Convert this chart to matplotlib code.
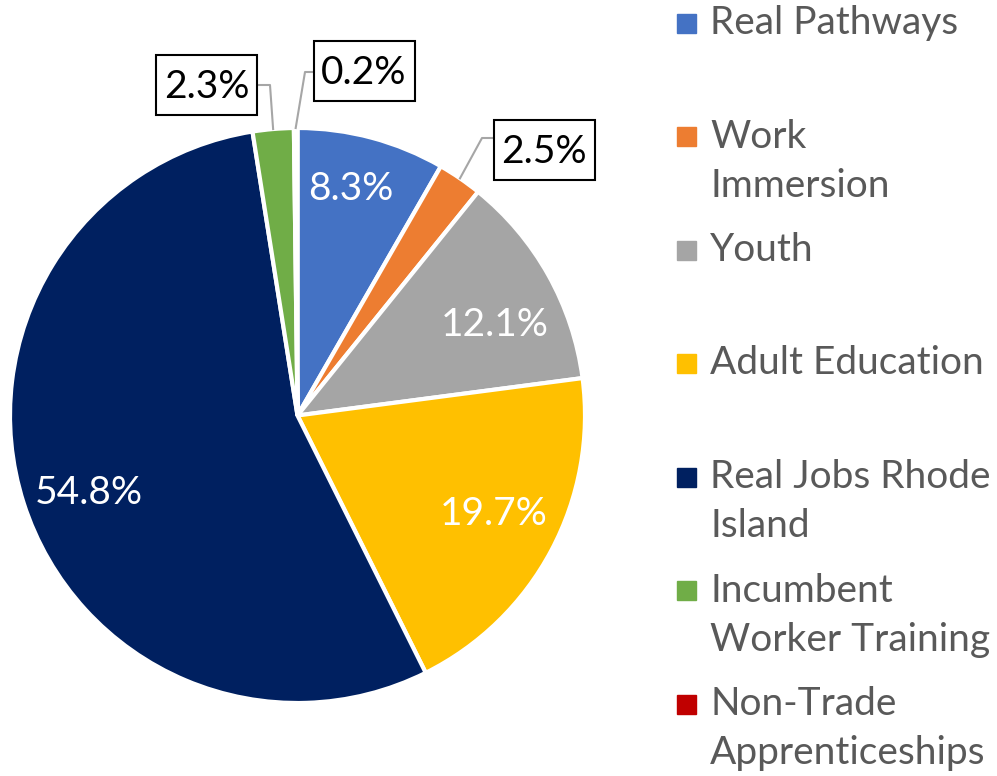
import numpy as np
import matplotlib.pyplot as plt
from matplotlib.patches import Rectangle

plt.rcParams['font.family'] = ['Lato', 'DejaVu Sans']

categories = ['Real Pathways', 'Work\nImmersion', 'Youth', 'Adult Education',
              'Real Jobs Rhode\nIsland', 'Incumbent\nWorker Training',
              'Non-Trade\nApprenticeships']
shares = [8.3, 2.5, 12.1, 19.7, 54.8, 2.3, 0.2]
colors = ['#4472C4', '#ED7D31', '#A5A5A5', '#FFC000', '#002060', '#70AD47', '#C00000']

# label radius (fraction of pie radius) and angle nudge (deg) for inside labels
label_r = {0: 0.82, 2: 0.76, 3: 0.76, 4: 0.77}
label_da = {0: -2, 2: 4, 3: -2, 4: -2}
# callouts for small slices: box centre, elbow point, end at box edge (pixels)
callouts = {1: ((544, 150), (482, 138), (493, 138)),
            5: ((206.5, 85), (270, 85), (257, 85)),
            6: ((364, 71), (305, 72), (313, 72))}

W, H = 997, 776
fig = plt.figure(figsize=(W / 100, H / 100), dpi=100)
ax = fig.add_axes([0, 0, 1, 1])

cx, cy, r = 297.5, 415.5, 287.5

# y axis is flipped, so counterclock=True draws clockwise on screen
wedges, _ = ax.pie(shares, colors=colors, startangle=-90, counterclock=True,
                   center=(cx, cy), radius=r, frame=True,
                   wedgeprops=dict(edgecolor='white', linewidth=3))
ax.set_xlim(0, W)
ax.set_ylim(H, 0)
ax.set_aspect('equal')
ax.axis('off')

total = sum(shares)
start = 0.0
for i, s in enumerate(shares):
    mid = (start + s / 2) / total * 2 * np.pi
    start += s
    label = f'{s:.1f}%'
    if i in callouts:
        (bx, by), (ex, ey), (tx, ty) = callouts[i]
        px = cx + r * np.sin(mid)
        py = cy - r * np.cos(mid)
        ax.plot([px, ex, tx], [py, ey, ty], color='#A6A6A6', lw=1.5, zorder=3)
        ax.add_patch(Rectangle((bx - 50.5, by - 30), 101, 60, fc='white',
                               ec='black', lw=1.5, zorder=4))
        ax.text(bx, by + 2, label, ha='center', va='center', fontsize=28,
                color='black', zorder=5)
    else:
        d = label_r[i] * r
        a = mid + np.radians(label_da[i])
        ax.text(cx + d * np.sin(a), cy - d * np.cos(a) + 3, label, ha='center',
                va='center', fontsize=28, color='white')

# legend
for i, (lab, c) in enumerate(zip(categories, colors)):
    y = 23 + i * 113.5
    ax.add_patch(Rectangle((677, y - 9.5), 19, 19, color=c))
    ax.text(710, y - 18, lab, ha='left', va='top', fontsize=28, color='#595959',
            linespacing=1.45)

fig.savefig('out.png', dpi=100)
